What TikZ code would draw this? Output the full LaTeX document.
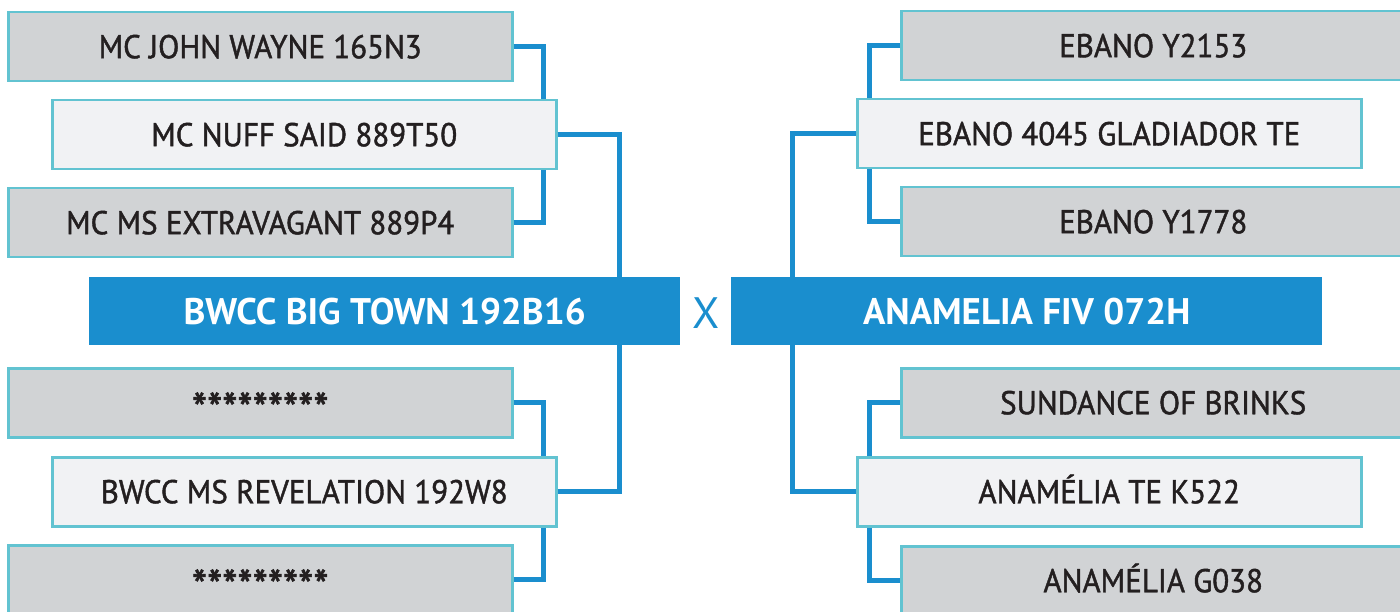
\documentclass[tikz,border=0pt]{standalone}
\usepackage{fontspec}
\setmainfont{PT Sans}
\newfontfamily\boxfont{PT Sans}[FakeStretch=0.94, FakeBold=1.3]
\definecolor{grayf}{HTML}{D1D3D5}
\definecolor{lightf}{HTML}{F1F2F4}
\definecolor{bordc}{HTML}{62C3D1}
\definecolor{mblue}{HTML}{1A8ECE}
\definecolor{txt}{HTML}{231F20}
\newcommand{\stars}{{\fontsize{46}{46}\selectfont\raisebox{-11pt}{*********}}}
\begin{document}
\begin{tikzpicture}[x=1pt,y=-1pt,
  box/.style={draw=bordc, line width=2.5pt, minimum height=69pt, anchor=north west,
    inner sep=0pt, text=txt, font=\boxfont\fontsize{33}{36}\selectfont, text height=23pt, text depth=0pt},
  gbox/.style={box, fill=grayf, minimum width=504pt},
  lbox/.style={box, fill=lightf, minimum width=504pt},
  mbox/.style={fill=mblue, minimum width=591pt, minimum height=68pt, anchor=north west,
    inner sep=0pt, text=white, font=\fontsize{37}{40}\selectfont\bfseries, text height=26pt, text depth=0pt},
  conn/.style={draw=mblue, line width=5pt}]
\useasboundingbox (0,0) rectangle (1400,612);
\clip (0,0) rectangle (1400,612);
% left side
\node[gbox] (A) at (7,11) {MC JOHN WAYNE 165N3};
\node[lbox] (B) at (51,99) {MC NUFF SAID 889T50};
\node[gbox] (C) at (7,187) {MC MS EXTRAVAGANT 889P4};
\node[mbox] (ML) at (89,277) {BWCC BIG TOWN 192B16};
\node[gbox] (D) at (7,367) {\stars};
\node[lbox] (E) at (51,456) {BWCC MS REVELATION 192W8};
\node[gbox] (F) at (7,544) {\stars};
% right side
\node[gbox, minimum width=560pt] (G) at (900,10) {\hspace*{-56pt}EBANO Y2153};
\node[lbox] (H) at (856,98) {EBANO 4045 GLADIADOR TE};
\node[gbox, minimum width=560pt] (I) at (900,186) {\hspace*{-56pt}EBANO Y1778};
\node[mbox] (MR) at (731,277) {ANAMELIA FIV 072H};
\node[gbox, minimum width=560pt] (J) at (900,367) {\hspace*{-56pt}SUNDANCE OF BRINKS};
\node[lbox] (K) at (856,456) {ANAMÉLIA TE K522};
\node[gbox, minimum width=560pt] (L) at (900,545) {\hspace*{-56pt}ANAMÉLIA G038};
\node[text=mblue, font=\fontsize{44}{46}\selectfont, inner sep=0pt] (X) at (706,313) {X};
% connectors left
\draw[conn] (A.east) -- ++(30,0) coordinate (a1) -- (a1 |- B.north);
\draw[conn] (C.east) -- ++(30,0) coordinate (c1) -- (c1 |- B.south);
\draw[conn] (B.east) -- ++(62,0) coordinate (b1) -- (b1 |- ML.north);
\draw[conn] (D.east) -- ++(30,0) coordinate (d1) -- (d1 |- E.north);
\draw[conn] (F.east) -- ++(30,0) coordinate (f1) -- (f1 |- E.south);
\draw[conn] (E.east) -- ++(62,0) coordinate (e1) -- (e1 |- ML.south);
% connectors right
\draw[conn] (G.west) -- ++(-31,0) coordinate (g1) -- (g1 |- H.north);
\draw[conn] (I.west) -- ++(-31,0) coordinate (i1) -- (i1 |- H.south);
\draw[conn] (H.west) -- ++(-64,0) coordinate (h1) -- (h1 |- MR.north);
\draw[conn] (J.west) -- ++(-31,0) coordinate (j1) -- (j1 |- K.north);
\draw[conn] (L.west) -- ++(-31,0) coordinate (l1) -- (l1 |- K.south);
\draw[conn] (K.west) -- ++(-64,0) coordinate (k1) -- (k1 |- MR.south);
\end{tikzpicture}
\end{document}
